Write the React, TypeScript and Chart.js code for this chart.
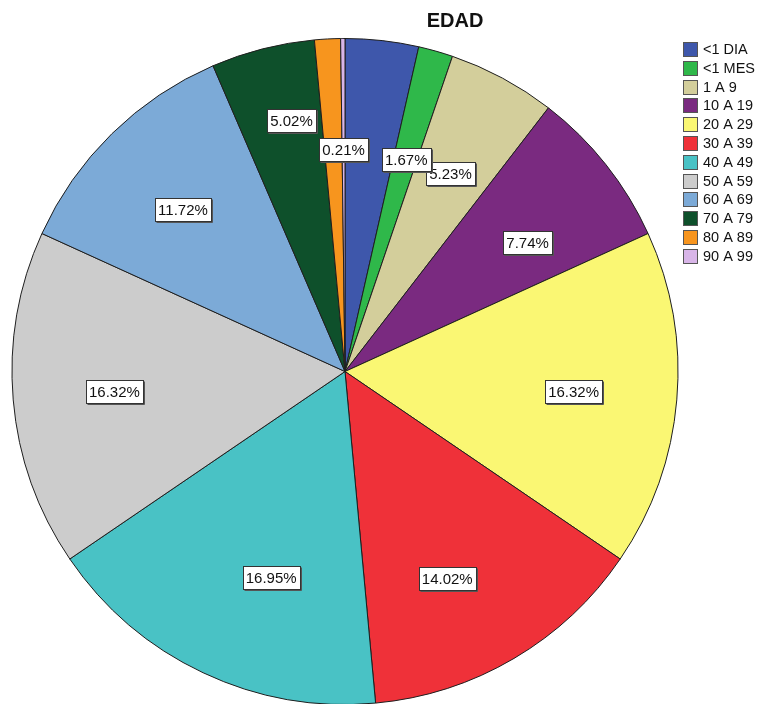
import React, { useEffect, useRef } from "react";
import { Chart, registerables } from "chart.js";

Chart.register(...registerables);

const titleText = "EDAD";
const categories = ["<1 DIA", "<1 MES", "1 A 9", "10 A 19", "20 A 29", "30 A 39", "40 A 49", "50 A 59", "60 A 69", "70 A 79", "80 A 89", "90 A 99"];
const counts = [17, 8, 25, 37, 78, 67, 81, 78, 56, 24, 6, 1];
const percentLabels = ["", "1.67%", "5.23%", "7.74%", "16.32%", "14.02%", "16.95%", "16.32%", "11.72%", "5.02%", "", "0.21%"];
const sliceColors = ["#3e57ab", "#2fb84a", "#d3ce9b", "#7a2a80", "#faf773", "#ef3139", "#49c2c5", "#cccccc", "#7caad7", "#0e502b", "#f7951e", "#d8b5e8"];

// label placement style: fraction of radius and angular shift (degrees) from slice mid-angle
const labelRadiusFrac = [0.68, 0.663, 0.674, 0.671, 0.689, 0.693, 0.657, 0.695, 0.689, 0.772, 0.68, 0.666];
const labelAngleShift = [0, 0.3, -0.2, 3.2, 0, 4.2, -5.5, 0, -0.5, 2.3, 0, 0];

const FONT = '"Liberation Sans", Arial, sans-serif';

const overlayPlugin = {
  id: "overlay",
  afterDraw(chart: any) {
    const ctx = chart.ctx;
    const meta = chart.getDatasetMeta(0);
    ctx.save();
    ctx.font = `15px ${FONT}`;
    ctx.textAlign = "center";
    ctx.textBaseline = "middle";
    for (let i = meta.data.length - 1; i >= 0; i--) {
      const text = percentLabels[i];
      if (!text) continue;
      const arc: any = meta.data[i];
      const { x, y, startAngle, endAngle, outerRadius } = arc.getProps(["x", "y", "startAngle", "endAngle", "outerRadius"], true);
      const mid = (startAngle + endAngle) / 2 + (labelAngleShift[i] * Math.PI) / 180;
      const r = outerRadius * labelRadiusFrac[i];
      const cx = x + Math.cos(mid) * r;
      const cy = y + Math.sin(mid) * r;
      const w = Math.round(ctx.measureText(text).width + 6);
      const h = 23;
      const left = Math.round(cx - w / 2) + 0.5;
      const top = Math.round(cy - h / 2) + 0.5;
      ctx.fillStyle = "#ffffff";
      ctx.fillRect(left, top, w, h);
      ctx.lineWidth = 1;
      ctx.strokeStyle = "#333333";
      ctx.strokeRect(left, top, w, h);
      ctx.strokeStyle = "#555555";
      ctx.beginPath();
      ctx.moveTo(left + 1, top + h + 1);
      ctx.lineTo(left + w + 1, top + h + 1);
      ctx.lineTo(left + w + 1, top + 1);
      ctx.stroke();
      ctx.fillStyle = "#111111";
      ctx.fillText(text, cx, top + h / 2 + 1);
    }
    ctx.font = `bold 20px ${FONT}`;
    ctx.fillStyle = "#111111";
    ctx.textAlign = "center";
    ctx.textBaseline = "middle";
    ctx.fillText(titleText, 455, 21);
    ctx.font = `14.5px ${FONT}`;
    ctx.textAlign = "left";
    const lx = 683;
    const ly = 42;
    const pitch = 18.8;
    categories.forEach((c, i) => {
      const by = Math.round(ly + i * pitch);
      ctx.fillStyle = sliceColors[i];
      ctx.fillRect(lx + 0.5, by + 0.5, 14, 14);
      ctx.strokeStyle = "#555555";
      ctx.lineWidth = 1;
      ctx.strokeRect(lx + 0.5, by + 0.5, 14, 14);
      ctx.fillStyle = "#111111";
      ctx.fillText(c, lx + 20, by + 8);
    });
    ctx.restore();
  },
};

export default function App() {
  const ref = useRef<HTMLCanvasElement | null>(null);
  useEffect(() => {
    document.body.style.margin = "0";
    const chart = new Chart(ref.current as HTMLCanvasElement, {
      type: "pie",
      data: {
        labels: categories,
        datasets: [
          {
            data: counts,
            backgroundColor: sliceColors,
            borderColor: "#1e1e1e",
            borderWidth: 1,
            hoverOffset: 0,
            offset: 0,
          },
        ],
      },
      options: {
        responsive: true,
        maintainAspectRatio: false,
        animation: false,
        radius: 333,
        layout: { padding: { left: 12, right: 84, top: 39, bottom: 0 } },
        plugins: {
          legend: { display: false },
          title: { display: false },
          tooltip: { enabled: false },
        },
      } as any,
      plugins: [overlayPlugin],
    });
    return () => chart.destroy();
  }, []);
  return (
    <div style={{ width: 762, height: 704, position: "relative" }}>
      <canvas ref={ref} />
    </div>
  );
}
